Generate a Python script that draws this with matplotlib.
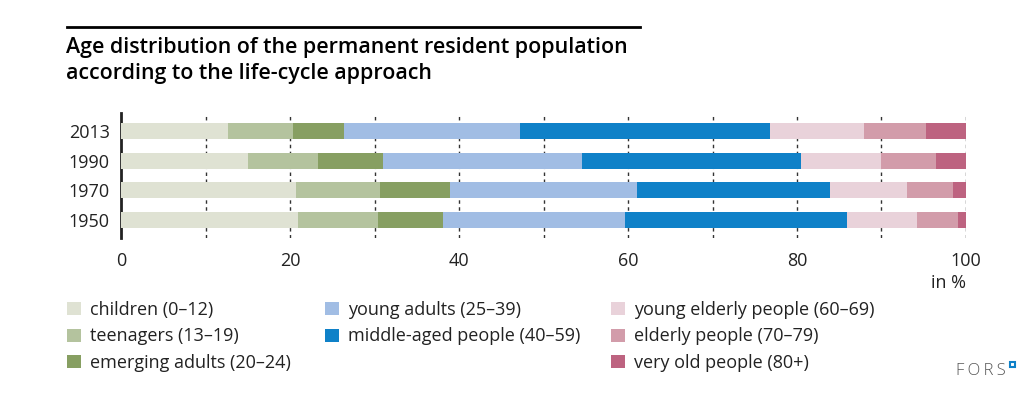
import matplotlib
matplotlib.use("Agg")
import matplotlib.pyplot as plt
from matplotlib.patches import Patch, Rectangle
from matplotlib.lines import Line2D
import numpy as np

years = ["1950", "1970", "1990", "2013"]
categories = ["children (0\u201312)", "teenagers (13\u201319)", "emerging adults (20\u201324)",
              "young adults (25\u201339)", "middle-aged people (40\u201359)",
              "young elderly people (60\u201369)", "elderly people (70\u201379)", "very old people (80+)"]
children      = [21.0, 20.7, 15.0, 12.7]
teenagers     = [9.4, 10.0, 8.3, 7.7]
emerging      = [7.7, 8.2, 7.7, 6.0]
young_adults  = [21.6, 22.2, 23.6, 20.8]
middle_aged   = [26.2, 22.8, 25.9, 29.6]
young_elderly = [8.3, 9.1, 9.4, 11.1]
elderly       = [4.8, 5.5, 6.5, 7.4]
very_old      = [1.0, 1.5, 3.6, 4.7]
colors = ["#dfe2d3", "#b4c39e", "#879f62", "#a1bde4", "#0f81c8", "#e9d2da", "#d29caa", "#bd6380"]
xticks = [0, 20, 40, 60, 80, 100]

series = [children, teenagers, emerging, young_adults, middle_aged, young_elderly, elderly, very_old]

plt.rcParams['font.family'] = ['Open Sans', 'DejaVu Sans']
W, H = 1035, 396
fig = plt.figure(figsize=(W/100, H/100), dpi=100)
ax = fig.add_axes([121/W, 1-238/H, (966-121)/W, (238-113)/H])

y = np.arange(len(years))
left = np.zeros(len(years))
handles = []
for vals, col, lab in zip(series, colors, categories):
    ax.barh(y, vals, left=left, height=0.55, color=col, zorder=3, label=lab)
    left += np.array(vals)
    handles.append(Patch(facecolor=col, edgecolor='none', label=lab))

ax.set_xlim(0, 100)
ax.set_ylim(-0.62, 3.62)
for xv in range(10, 101, 10):
    ax.axvline(xv, color="#333333", lw=1.0, ls=(0, (2.5, 2.5)), zorder=1)
for s in ["top", "right", "bottom"]:
    ax.spines[s].set_visible(False)
ax.spines["left"].set_linewidth(2)
ax.spines["left"].set_color("#222222")
ax.set_yticks(y)
ax.set_yticklabels(years, fontsize=13, color="#222222")
ax.set_xticks(xticks)
ax.set_xticklabels([str(t) for t in xticks], fontsize=13, color="#222222")
ax.tick_params(length=0, pad=8)
ax.tick_params(axis='x', pad=10)
fig.text(966/W, 1-283/H, "in %", ha="right", va="center", fontsize=13, color="#222222")

# title
fig.add_artist(Line2D([67/W, 640/W], [1-27/H, 1-27/H], color="black", lw=2))
fig.text(66/W, 1-48/H, "Age distribution of the permanent resident population",
         fontsize=15.4, fontweight="semibold", va="center", ha="left")
fig.text(66/W, 1-73/H, "according to the life-cycle approach",
         fontsize=15.4, fontweight="semibold", va="center", ha="left")

# legend
groups = [(handles[0:3], 67), (handles[3:5], 325), (handles[5:8], 611)]
for hs, xpx in groups:
    fig.legend(handles=hs, loc="upper left", bbox_to_anchor=(xpx/W, 1-301/H),
               frameon=False, fontsize=13, handlelength=0.75, handleheight=0.75,
               handletextpad=0.5, labelspacing=0.47, borderaxespad=0, borderpad=0,
               labelcolor="#222222")

fig.text(1006/W, 1-371/H, "F\u2009O\u2009R\u2009S", ha="right", va="center",
         fontsize=12, fontweight="light", color="#555555")
fig.add_artist(Rectangle((1010/W, 1-367/H), 5/W, 5/H, facecolor="white", edgecolor="#0f81c8", lw=1.5))

fig.savefig("out.png", dpi=100)
